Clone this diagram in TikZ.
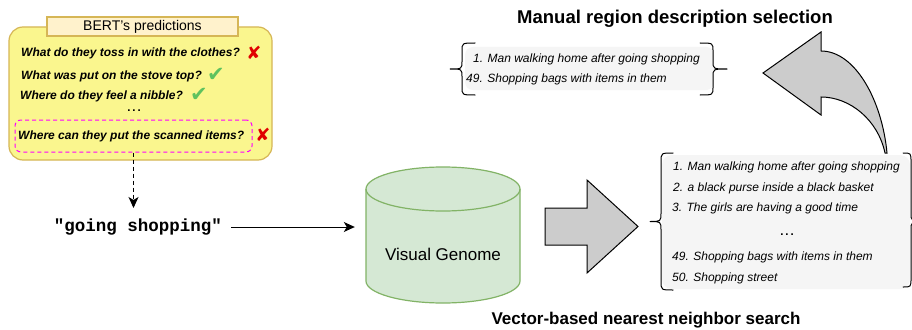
\documentclass[tikz,border=0pt]{standalone}
\usepackage{fontspec}
\setmainfont{Liberation Sans}
\newfontfamily\monofont{Liberation Mono}
\newfontfamily\symbolfont{DejaVu Sans}
\usetikzlibrary{arrows.meta}
\definecolor{notefill}{HTML}{FAF68E}
\definecolor{notedraw}{HTML}{D6B656}
\definecolor{tabfill}{HTML}{FFF2CC}
\definecolor{vgfill}{HTML}{D5E8D4}
\definecolor{vgdraw}{HTML}{82B366}
\definecolor{listfill}{HTML}{F5F5F5}
\definecolor{arrowgray}{HTML}{CCCCCC}
\definecolor{okgreen}{HTML}{5EC25E}
\definecolor{badred}{HTML}{E00000}
\definecolor{pinkdash}{HTML}{FF00FF}
\tikzset{
  question/.style={anchor=west, inner sep=0pt, font=\fontsize{12}{14}\selectfont\bfseries\itshape},
  item/.style={anchor=west, inner sep=0pt, font=\fontsize{12}{14}\selectfont\itshape},
  heading/.style={inner sep=0pt, font=\fontsize{17}{20}\selectfont\bfseries},
  okmark/.style={inner sep=0pt, text=okgreen, font=\symbolfont\fontsize{21}{21}\selectfont},
  badmark/.style={inner sep=0pt, text=badred, font=\symbolfont\fontsize{18}{18}\selectfont},
  flow/.style={-{Stealth[length=11pt,width=10pt,inset=3pt]}, line width=1pt},
  bracestyle/.style={line width=1pt, line join=round, line cap=round},
  bigarrow/.style={fill=arrowgray, draw=black, line width=1pt, line join=miter},
  listbox/.style={fill=listfill, inner sep=0pt},
  ellipsis/.style={anchor=base, inner sep=0pt, text height=2pt, text depth=0pt, font=\fontsize{11.5}{12}\selectfont\bfseries},
}
% #1 tick x, #2 vertical x, #3 hook x, #4 top y, #5 mid y, #6 bottom y, #7 radius
\newcommand\bracepath[7]{%
  \draw[bracestyle] (#3,#4) .. controls (#2,#4) .. (#2,#4+#7) -- (#2,#5-#7)
    .. controls (#2,#5) .. (#1,#5)
    (#1,#5) .. controls (#2,#5) .. (#2,#5+#7) -- (#2,#6-#7)
    .. controls (#2,#6) .. (#3,#6);}
\begin{document}
\begin{tikzpicture}[x=1pt,y=-1pt]
\useasboundingbox[fill=white] (0,0) rectangle (912,329);

% BERT box
\node[draw=notedraw, fill=notefill, rounded corners=14pt, line width=1.2pt,
      minimum width=263pt, minimum height=133pt, inner sep=0pt] (bert) at (140.5,93.5) {};
\node[draw=notedraw, fill=tabfill, line width=1.2pt, minimum width=191pt,
      minimum height=19pt, inner sep=0pt, font=\fontsize{14}{16}\selectfont] (tab) at (142.5,26.5) {BERT's predictions};
\node[question] (q1) at (21,53) {What do they toss in with the clothes?};
\node[badmark] (x1) at (254,53) {✘};
\node[question] (q2) at (21,76) {What was put on the stove top?};
\node[okmark] (c2) at (216,75) {✔};
\node[question] (q3) at (20,96.5) {Where do they feel a nibble?};
\node[okmark] (c3) at (199,95) {✔};
\node[ellipsis] (qdots) at (134,111.5) {.\,.\,.};
\node[question] (q4) at (18,136) {Where can they put the scanned items?};
\node[draw=pinkdash, dash pattern=on 4pt off 3pt, rounded corners=6pt, line width=1pt,
      minimum width=237pt, minimum height=32pt, inner sep=0pt] (sel) at (133.5,136) {};
\node[badmark] (x4) at (263,135) {✘};

% query
\node[inner sep=0pt, font=\monofont\bfseries\fontsize{17.5}{20}\selectfont] (gs) at (138,227) {"going shopping"};
\coordinate (gsin) at (133.5,208);
\draw[flow, dash pattern=on 4pt off 3pt] (sel.south) -- (gsin);

% cylinder
\fill[vgfill] (366,189) -- (366,281) arc[start angle=180,end angle=360,x radius=77pt,y radius=22pt]
  -- (520,189) arc[start angle=0,end angle=180,x radius=77pt,y radius=22pt] -- cycle;
\draw[vgdraw, line width=1.2pt] (366,189) -- (366,281) arc[start angle=180,end angle=360,x radius=77pt,y radius=22pt]
  -- (520,189) arc[start angle=0,end angle=180,x radius=77pt,y radius=22pt];
\draw[vgdraw, line width=1.2pt] (366,189) arc[start angle=180,end angle=360,x radius=77pt,y radius=22pt];
\node[minimum width=154pt, minimum height=136pt, inner sep=0pt] (vgbody) at (443,235) {};
\node[inner sep=0pt, font=\fontsize{17}{20}\selectfont] (vg) at (443,254) {Visual Genome};
\draw[flow, shorten <=9pt, shorten >=11pt] (gs.east) -- (gs.east -| vgbody.west);

% big gray arrow
\draw[bigarrow] (545,208) -- (587,208) -- (587,180) -- (638,226.5) -- (587,273) -- (587,245) -- (545,245) -- cycle;

% nearest neighbour list
\node[listbox, rounded corners=10pt, minimum width=248pt, minimum height=134pt] (nnbox) at (786,222) {};
\bracepath{650}{661}{673}{153}{221.5}{290}{9}
\bracepath{925}{911}{903}{153}{221.5}{287}{9}
\node[item] (n1) at (673,167) {1. Man walking home after going shopping};
\node[item] (n2) at (673,188) {2. a black purse inside a black basket};
\node[item] (n3) at (672,208) {3. The girls are having a good time};
\node[ellipsis] (ndots) at (787,235) {.\,.\,.};
\node[item] (n49) at (672,257) {49. Shopping bags with items in them};
\node[item] (n50) at (672,278) {50. Shopping street};
\node[heading] (nntitle) at (646,320) {Vector-based nearest neighbor search};

% selection list
\node[listbox, rounded corners=8pt, minimum width=249pt, minimum height=43pt] (selbox) at (589.5,68.5) {};
\bracepath{450}{462}{475}{43}{69}{95}{8}
\bracepath{727}{713}{700}{43}{69}{95}{8}
\node[item] (s1) at (473,59) {1. Man walking home after going shopping};
\node[item] (s49) at (466,79) {49. Shopping bags with items in them};
\node[heading, font=\fontsize{18.5}{21}\selectfont\bfseries] (seltitle) at (675,19) {Manual region description selection};

% curved arrow
\draw[bigarrow] (763,73) -- (821,32) -- (821,51) .. controls (855,51) and (882,100) .. (887,153)
  -- (885,153) .. controls (878,120) and (850,97) .. (821,97) -- (821,115) -- cycle;
\end{tikzpicture}
\end{document}
